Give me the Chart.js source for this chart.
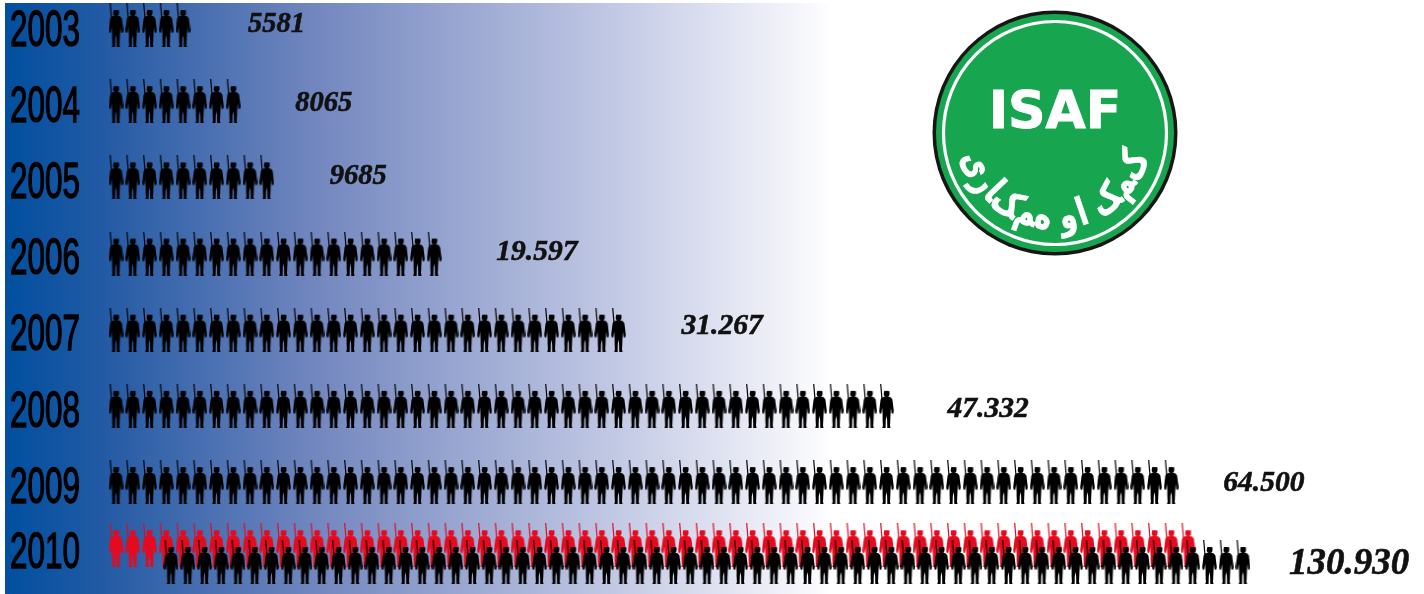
<!DOCTYPE html>
<html>
<head>
<meta charset="utf-8">
<title>ISAF</title>
<script src="https://cdn.jsdelivr.net/npm/chart.js"></script>
<style>
  html, body { margin: 0; padding: 0; background: #fff; overflow: hidden; }
  canvas { display: block; }
</style>
</head>
<body>
<canvas id="chart" width="1424" height="594"></canvas>
<script>
const years = [2003, 2004, 2005, 2006, 2007, 2008, 2009, 2010];
const valueLabels = ['5581', '8065', '9685', '19.597', '31.267', '47.332', '64.500', '130.930'];
// ein Soldat = ca. 1000 Mann
const soldierCounts = [5, 8, 10, 20, 31, 47, 64, 65];
const blackCount2010 = 65;

// Layout
const W = 1424, H = 594;
const PITCH = 16.75, FIRST_X = 116;
const ROW_FIRST = 25, ROW_STEP = 76.17;
const RED_ROW_SHIFT = -0.17, BLACK_ROW_SHIFT = 0.05, BLACK_START = 3.28;
const labelGaps = [65, 62, 63, 62, 63, 61, 52, 46];
const labelDy = [0, 2, -1, -1, -3, 4, 1, 6];
const labelSizes = [28.5, 28.5, 28.5, 29.5, 29.5, 29.5, 29.5, 37];
const yearDy = [7, 7, 7, 7, 7, 7, 7, -4];

function makeSoldier(color) {
  const c = document.createElement('canvas');
  c.width = 15;
  c.height = 44;
  const g = c.getContext('2d');
  g.fillStyle = color;
  g.strokeStyle = color;
  // Gewehr
  g.lineWidth = 1.2;
  g.beginPath();
  g.moveTo(1.7, 0);
  g.lineTo(3.2, 18);
  g.stroke();
  // Kopf
  g.beginPath();
  g.arc(7.6, 10, 2.9, 0, Math.PI * 2);
  g.fill();
  g.fillRect(5, 7.2, 5.4, 2.2);
  // Körper
  const pts = [[6.4, 12.5], [3.2, 13.4], [1.6, 15.5], [0.2, 27], [0.7, 29.8], [2.4, 29.4], [3.2, 24],
    [3.6, 31], [3.6, 36], [3.9, 42], [3.2, 44], [6.6, 44], [6.8, 36], [7.5, 32], [8.1, 36],
    [8.3, 44], [11.6, 44], [11, 42], [11.3, 36], [11.5, 31], [12, 24], [12.6, 29.4], [14.3, 29.8],
    [14.8, 27], [13.4, 15.5], [11.8, 13.4], [8.8, 12.5]];
  g.beginPath();
  pts.forEach((p, i) => i ? g.lineTo(p[0], p[1]) : g.moveTo(p[0], p[1]));
  g.closePath();
  g.fill();
  return c;
}

const blackSoldier = makeSoldier('#000');
const redSoldier = makeSoldier('#e60a1e');

function rowPoints(count, y, start) {
  const pts = [];
  for (let i = 0; i < count; i++) pts.push({ x: start + i, y: y });
  return pts;
}

function soldierDataset(data, img) {
  // kleiner Radius: das Bild bestimmt die Größe
  return { data, pointStyle: img, pointRadius: 0.1, pointBorderWidth: 0, borderWidth: 0, showLine: false, clip: false };
}

const datasets = [];
years.forEach((y, i) => {
  if (y !== 2010) datasets.push(soldierDataset(rowPoints(soldierCounts[i], y, 0), blackSoldier));
});
// 2010: schwarze Reihe liegt über der roten
datasets.push(soldierDataset(rowPoints(blackCount2010, 2010 + BLACK_ROW_SHIFT, BLACK_START), blackSoldier));
datasets.push(soldierDataset(rowPoints(soldierCounts[7], 2010 + RED_ROW_SHIFT, 0), redSoldier));

const backgroundPlugin = {
  id: 'background',
  beforeDraw(chart) {
    const ctx = chart.ctx;
    const grad = ctx.createLinearGradient(5, 0, 828, 0);
    grad.addColorStop(0, '#004f9f');
    grad.addColorStop(0.12, '#235aa4');
    grad.addColorStop(0.38, '#7387bf');
    grad.addColorStop(0.7, '#b9c1e0');
    grad.addColorStop(0.9, '#e6e8f4');
    grad.addColorStop(1, '#fdfdff');
    ctx.save();
    ctx.fillStyle = '#fff';
    ctx.fillRect(0, 0, W, H);
    ctx.fillStyle = grad;
    ctx.fillRect(5, 3, 823, H - 3);
    ctx.restore();
  }
};

function drawLogo(ctx) {
  const cx = 1055, cy = 133;
  ctx.save();
  ctx.fillStyle = '#161616';
  ctx.beginPath();
  ctx.arc(cx, cy, 122.5, 0, Math.PI * 2);
  ctx.fill();
  ctx.fillStyle = '#17a550';
  ctx.beginPath();
  ctx.arc(cx, cy, 119, 0, Math.PI * 2);
  ctx.fill();
  ctx.strokeStyle = '#fff';
  ctx.lineWidth = 3.2;
  ctx.beginPath();
  ctx.arc(cx, cy, 111.5, 0, Math.PI * 2);
  ctx.stroke();

  ctx.fillStyle = '#fff';
  ctx.strokeStyle = '#fff';
  ctx.lineWidth = 1;
  ctx.font = 'bold 52px "DejaVu Sans"';
  ctx.textAlign = 'center';
  ctx.textBaseline = 'alphabetic';
  ctx.fillText('ISAF', cx, 128);
  ctx.strokeText('ISAF', cx, 128);

  // Schrift auf dem Bogen, von rechts nach links
  const parts = ['ک\u200d', '\u200dم\u200d', '\u200dک', 'ا', 'و', 'ه\u200d', '\u200dم\u200d', '\u200dک\u200d', '\u200dا', 'ر', 'ی'];
  const gaps = [0, 0, 0, 16, 4, 16, 0, 0, 0, 2, 2];
  const r = 96;
  ctx.font = 'bold 38px "DejaVu Sans"';
  ctx.textAlign = 'center';
  ctx.lineWidth = 0.8;
  let total = 0;
  const widths = parts.map(p => ctx.measureText(p).width);
  widths.forEach((w, i) => { total += w + gaps[i]; });
  const span = (152 * Math.PI / 180) * r;
  const k = span / total;
  let pos = 0;
  parts.forEach((p, i) => {
    pos += gaps[i] * k;
    const mid = pos + widths[i] * k / 2;
    const a = (span / 2 - mid) / r;  // 0 = unten, + = rechts
    ctx.save();
    ctx.translate(cx + Math.sin(a) * r, cy + Math.cos(a) * r);
    ctx.rotate(-a);
    ctx.scale(k, 1);
    ctx.fillText(p, 0, 0);
    ctx.strokeText(p, 0, 0);
    ctx.restore();
    pos += widths[i] * k;
  });
  ctx.restore();
}

const labelPlugin = {
  id: 'labels',
  afterDatasetsDraw(chart) {
    const ctx = chart.ctx;
    const xs = chart.scales.x, ys = chart.scales.y;
    years.forEach((y, i) => {
      const py = ys.getPixelForValue(y);
      // Jahreszahl, schmal gezogen
      ctx.save();
      ctx.fillStyle = '#000';
      ctx.textBaseline = 'middle';
      ctx.textAlign = 'left';
      ctx.font = '50px "Liberation Sans Narrow", "Liberation Sans"';
      const w = ctx.measureText(String(y)).width;
      ctx.translate(10, py + yearDy[i]);
      ctx.scale(70 / w, 1);
      ctx.lineWidth = 1.4;
      ctx.strokeStyle = '#000';
      ctx.strokeText(String(y), 0, 0);
      ctx.fillText(String(y), 0, 0);
      ctx.restore();

      // Zahl hinter der Reihe
      const last = i === 7 ? BLACK_START + blackCount2010 - 1 : soldierCounts[i] - 1;
      ctx.save();
      ctx.fillStyle = '#111';
      ctx.strokeStyle = '#111';
      ctx.lineWidth = 0.6;
      ctx.textBaseline = 'middle';
      ctx.textAlign = 'left';
      ctx.font = 'italic bold ' + labelSizes[i] + 'px "Liberation Serif"';
      const lx = xs.getPixelForValue(last) + labelGaps[i], ly = py + labelDy[i];
      ctx.fillText(valueLabels[i], lx, ly);
      ctx.strokeText(valueLabels[i], lx, ly);
      ctx.restore();
    });
    drawLogo(ctx);
  }
};

new Chart(document.getElementById('chart'), {
  type: 'scatter',
  data: { datasets },
  plugins: [backgroundPlugin, labelPlugin],
  options: {
    responsive: false,
    animation: false,
    layout: { padding: 0, autoPadding: false },
    plugins: { legend: { display: false }, tooltip: { enabled: false } },
    scales: {
      x: { type: 'linear', display: false, min: -FIRST_X / PITCH, max: (W - FIRST_X) / PITCH },
      y: {
        type: 'linear', display: false, reverse: true,
        min: years[0] - ROW_FIRST / ROW_STEP,
        max: years[0] + (H - ROW_FIRST) / ROW_STEP
      }
    }
  }
});
</script>
</body>
</html>
